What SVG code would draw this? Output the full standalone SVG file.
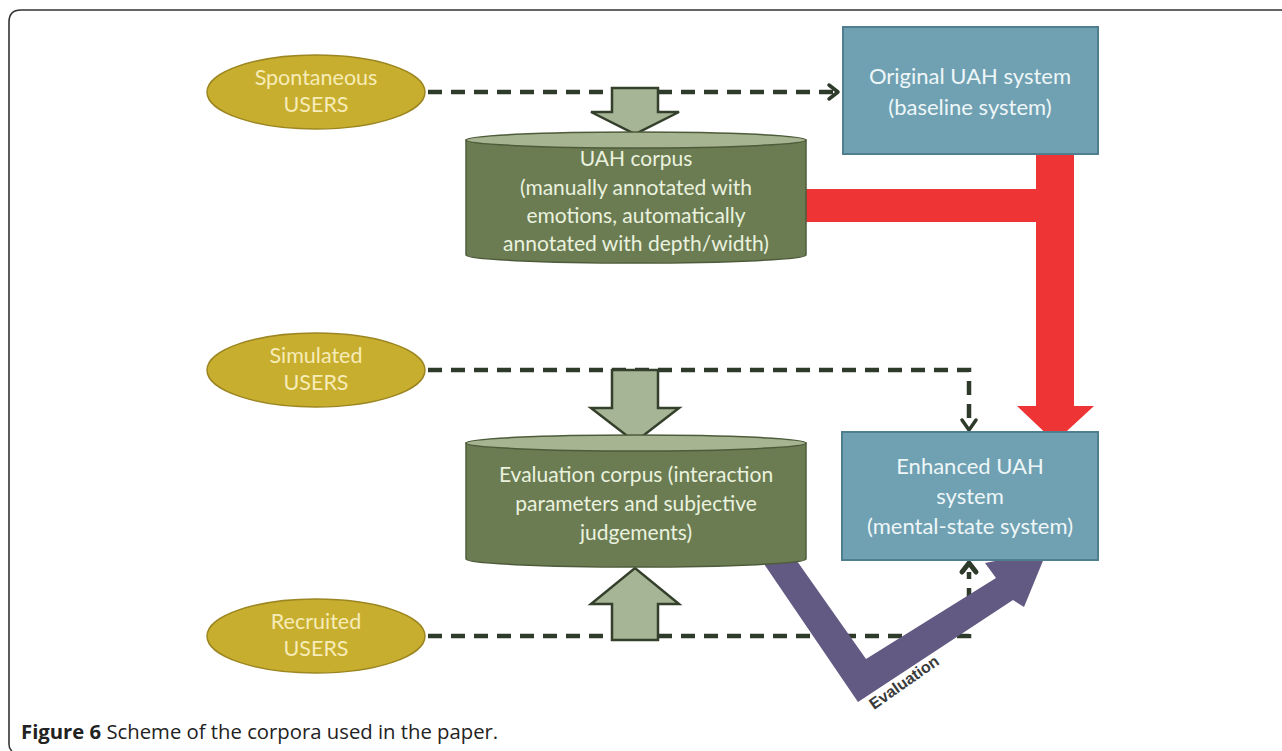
<svg xmlns="http://www.w3.org/2000/svg" width="1282" height="751" viewBox="0 0 1282 751">
<defs>
<style>
.ell{fill:#c8ae2e;stroke:#9c8622;stroke-width:1.5}
.etx{font-family:Lato,"Open Sans",sans-serif;font-size:21.5px;fill:#f6ecb8;text-anchor:middle}
.box{fill:#6fa1b2;stroke:#4f7f8f;stroke-width:2}
.btx{font-family:Lato,"Open Sans",sans-serif;font-size:22px;fill:#eef6f8;text-anchor:middle}
.cyl{fill:#6b7c53;stroke:#4e5c3b;stroke-width:1.5}
.cyltop{fill:#a6b491;stroke:#4e5c3b;stroke-width:1.5}
.ctx{font-family:Lato,"Open Sans",sans-serif;font-size:21px;fill:#eaf2df;text-anchor:middle}
.blk{fill:#a5b596;stroke:#34402b;stroke-width:2.5;stroke-linejoin:miter}
.dash{fill:none;stroke:#2e3a2a;stroke-width:4.5;stroke-dasharray:14 9}
.head{fill:none;stroke:#2e3a2a;stroke-width:3.5;stroke-linecap:round;stroke-linejoin:round}
.red{fill:#ee3434}
.pur{fill:#625a83}
</style>
</defs>
<rect width="1282" height="751" fill="#ffffff"/>
<path d="M1282,10 L21,10 Q9,10 9,22 L9,744 Q9,749 12,751" fill="none" stroke="#333333" stroke-width="1.6"/>

<g id="connectors">
  <path class="dash" d="M428,92 L836,92"/>
  <path class="head" d="M829,85 L838,92 L829,99"/>
  <path class="dash" d="M428,370 L969,370 L969,424"/>
  <path class="head" d="M962,420 L969,430 L976,420"/>
  <path class="dash" d="M428,636 L969,636 L969,572"/>
  <path class="head" d="M962,572 L969,563 L976,572" style="stroke-width:5"/>
  <path class="red" d="M806,189 L1036,189 L1036,153 L1074,153 L1074,406 L1094,406 L1055,442 L1017,406 L1036,406 L1036,222 L806,222 Z"/>
  <path class="pur" d="M762,561 L797,561 L866,659 L996,578 L985,563 L1047,551 L1024,607 L1013,600 L858,702 Z"/>
  <text x="0" y="0" transform="translate(874,710) rotate(-35)" font-family="'Liberation Sans',Arial,sans-serif" font-size="16" font-weight="bold" fill="#3a3a3a" stroke="#ffffff" stroke-width="0.6" paint-order="stroke">Evaluation</text>
  <path class="blk" d="M612,88 L658,88 L658,112 L679,112 L635,134 L591,112 L612,112 Z"/>
  <path class="blk" d="M612,370 L658,370 L658,408 L679,408 L635,442 L591,408 L612,408 Z"/>
  <path class="blk" d="M612,640 L658,640 L658,604 L679,604 L635,568 L591,604 L612,604 Z"/>
</g>

<g id="spontaneous">
  <ellipse class="ell" cx="316" cy="92" rx="109" ry="37"/>
  <text class="etx" x="316" y="85">Spontaneous</text>
  <text class="etx" x="316" y="112">USERS</text>
</g>
<g id="simulated">
  <ellipse class="ell" cx="316" cy="370" rx="109" ry="37"/>
  <text class="etx" x="316" y="363">Simulated</text>
  <text class="etx" x="316" y="390">USERS</text>
</g>
<g id="recruited">
  <ellipse class="ell" cx="316" cy="636" rx="109" ry="37"/>
  <text class="etx" x="316" y="629">Recruited</text>
  <text class="etx" x="316" y="656">USERS</text>
</g>

<g id="original">
  <rect class="box" x="843" y="27" width="255" height="127"/>
  <text class="btx" x="970" y="84">Original UAH system</text>
  <text class="btx" x="970" y="115">(baseline system)</text>
</g>
<g id="enhanced">
  <rect class="box" x="842" y="432" width="256" height="128"/>
  <text class="btx" x="970" y="474">Enhanced UAH</text>
  <text class="btx" x="970" y="504">system</text>
  <text class="btx" x="970" y="534">(mental-state system)</text>
</g>

<g id="uah-corpus">
  <path class="cyl" d="M466,140 L466,255 A170,8 0 0,0 806,255 L806,140 Z"/>
  <ellipse class="cyltop" cx="636" cy="140" rx="170" ry="8"/>
  <text class="ctx" x="636" y="166">UAH corpus</text>
  <text class="ctx" x="636" y="195">(manually annotated with</text>
  <text class="ctx" x="636" y="223">emotions, automatically</text>
  <text class="ctx" x="636" y="251">annotated with depth/width)</text>
</g>
<g id="evaluation-corpus">
  <path class="cyl" d="M466,443 L466,559 A170,8 0 0,0 806,559 L806,443 Z"/>
  <ellipse class="cyltop" cx="636" cy="443" rx="170" ry="8"/>
  <text class="ctx" x="636" y="482">Evaluation corpus (interaction</text>
  <text class="ctx" x="636" y="511">parameters and subjective</text>
  <text class="ctx" x="636" y="540">judgements)</text>
</g>

<text x="21" y="739" font-family="'Open Sans',sans-serif" font-size="20.3" fill="#222222"><tspan font-weight="bold">Figure 6</tspan> Scheme of the corpora used in the paper.</text>
</svg>
